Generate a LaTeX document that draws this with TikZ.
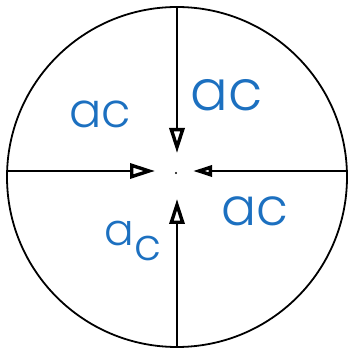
\documentclass[tikz,border=0pt]{standalone}
\usepackage{fontspec}
\setmainfont{Poppins}[UprightFont=* Light]
\usetikzlibrary{arrows.meta}
\definecolor{labelblue}{RGB}{28,112,192}
\tikzset{
  x=1pt, y=1pt,
  rim/.style={draw, circle, line width=1.8pt, minimum size=340pt, inner sep=0pt},
  spoke/.style={line width=1.8pt, -{Triangle[open, length=25pt, width=15pt, line width=3.4pt]}},
  lbl/.style={text=labelblue, inner sep=0pt, font=\fontsize{48}{48}\selectfont},
}
\begin{document}
\begin{tikzpicture}
\useasboundingbox (0,0) rectangle (350,358);
\node[rim] (circ) at (177,181) {};
\coordinate (nEnd) at (177,351);
\coordinate (sEnd) at (177,11);
\coordinate (wEnd) at (7.1,187);
\coordinate (eEnd) at (346.9,187);
\coordinate (nTip) at (177,205);
\coordinate (sTip) at (177,159);
\coordinate (wTip) at (155,187);
\coordinate (eTip) at (193,187);
\draw[spoke] (nEnd) -- (nTip);
\draw[spoke] (sEnd) -- (sTip);
\draw[spoke] (wEnd) -- (wTip);
\draw[spoke, -{Triangle[open, length=19pt, width=11pt, line width=3.4pt]}] (eEnd) -- (eTip);
\fill (176,185) circle (1.2pt);
\node[lbl] (ul) at (100,244) {ac};
\node[lbl, font=\fontsize{56}{56}\selectfont] (ur) at (227,263) {ac};
\node[lbl, font=\fontsize{52}{52}\selectfont] (lr) at (255,147) {ac};
\node[lbl, font=\fontsize{44}{44}\selectfont] (ll) at (133,117) {a\raisebox{-0.35em}{c}};
\end{tikzpicture}
\end{document}
